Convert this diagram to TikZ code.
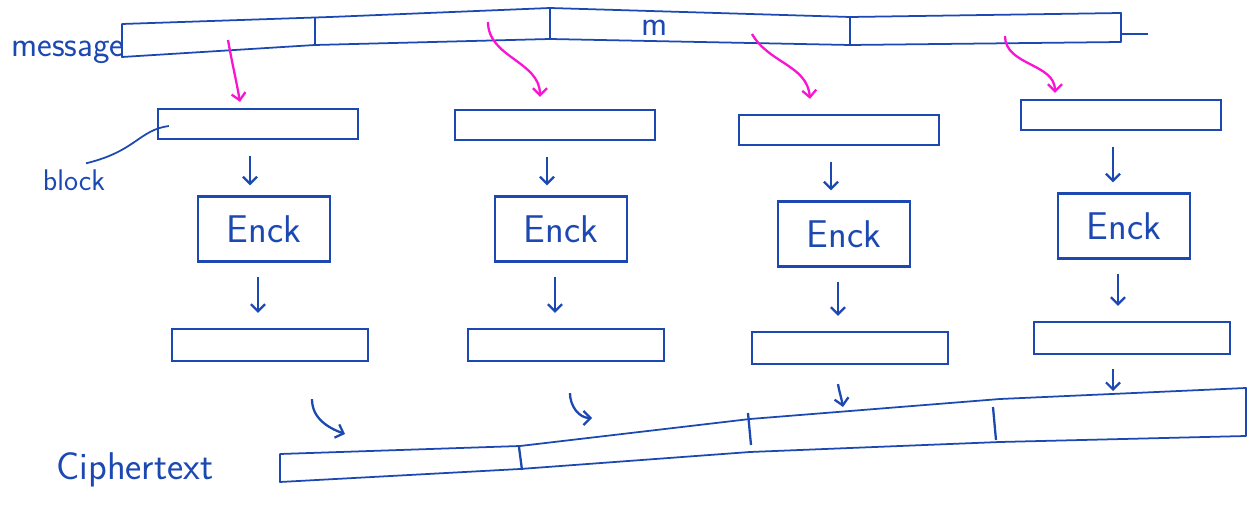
\documentclass[tikz,border=0pt]{standalone}
\usetikzlibrary{arrows.meta, calc}
\definecolor{ink}{RGB}{28,72,178}
\definecolor{hilite}{RGB}{250,20,210}

\begin{document}
\begin{tikzpicture}[x=0.02cm, y=-0.02cm, font=\sffamily,
  >={Straight Barb[length=4pt,width=8pt]},
  bar/.style={draw=ink, line width=1pt, line join=round},
  blockbox/.style={draw=ink, line width=1.3pt, minimum width=4cm, minimum height=0.6cm},
  encbox/.style={draw=ink, line width=1.3pt, minimum width=2.64cm, minimum height=1.3cm,
    text=ink, font=\sffamily\fontsize{22}{26}\selectfont},
  outbox/.style={draw=ink, line width=1.3pt, minimum width=3.92cm, minimum height=0.64cm},
  flow/.style={->, draw=ink, line width=1.3pt},
  pick/.style={->, draw=hilite, line width=1.3pt},
  tag/.style={text=ink, font=\sffamily\fontsize{20}{24}\selectfont}]
\useasboundingbox (0,0) rectangle (1249,506);

% ---- message ----
\draw[bar] (122,24) -- (330,17) -- (550,8) -- (850,17) -- (1121,13)
  -- (1121,42) -- (850,45) -- (550,39) -- (315,45) -- (122,57) -- cycle;
\draw[bar] (1121,34) -- (1148,34);                          % tail
\foreach \x/\a/\b in {315/18/46, 550/8/39, 850/17/45}
  \draw[bar, line width=1.3pt] (\x,\a) -- (\x,\b);
\node[tag] (msg) at (68,52) {message};
\node[tag] (m) at (655,28) {m};
\coordinate (p1) at (228,40);
\coordinate (p2) at (488,22);
\coordinate (p3) at (752,34);
\coordinate (p4) at (1005,36);

% ---- blocks, encryption, outputs ----
\foreach \i/\x/\y in {1/258/124, 2/555/125, 3/839/130, 4/1121/115}
  \node[blockbox] (blk\i) at (\x,\y) {};
\foreach \i/\x/\y in {1/264/229, 2/561/229, 3/844/234, 4/1124/226}
  \node[encbox] (enc\i) at (\x,\y) {Enck};
\foreach \i/\x/\y in {1/270/345, 2/566/345, 3/850/348, 4/1132/338}
  \node[outbox] (out\i) at (\x,\y) {};

\node[tag, font=\sffamily\fontsize{17}{20}\selectfont] (blocklbl) at (74,180) {block};
\draw[ink, line width=1pt] ($(blocklbl.north)+(12,0)$)
  .. controls +(50,-12) and +(-30,4) .. ($(blk1.west)+(12,2)$);

% splitting the message into blocks
\draw[pick] (p1) to[out=-80, in=100] ($(blk1.north)+(-18,-6)$);
\draw[pick] (p2) to[out=-90, in=90] ($(blk2.north)+(-15,-12)$);
\draw[pick] (p3) to[out=-60, in=95] ($(blk3.north)+(-29,-15)$);
\draw[pick] (p4) to[out=-90, in=90] ($(blk4.north)+(-66,-6)$);

\foreach \i in {1,...,4}{
  \draw[flow] ($(blk\i.south)+(-8,16)$) -- ($(blk\i.south |- enc\i.north)+(-8,-10)$);
  \draw[flow] ($(enc\i.south)+(-6,14)$) -- ($(enc\i.south |- out\i.north)+(-6,-15)$);
}

% ---- ciphertext ----
\draw[bar] (280,454) -- (520,446) -- (750,419) -- (1000,399) -- (1246,388)
  -- (1246,436) -- (1000,442) -- (750,452) -- (520,469) -- (280,482) -- cycle;
\foreach \x/\a/\b in {519/447/470, 748/413/445, 993/407/440}
  \draw[bar, line width=1.3pt] (\x,\a) -- (\x+3,\b);
\node[tag, font=\sffamily\fontsize{22}{26}\selectfont] (ctext) at (135,470) {Ciphertext};
\coordinate (c1) at (345,434);
\coordinate (c2) at (592,418);
\coordinate (c3) at (843,407);
\coordinate (c4) at (1113,391);

\foreach \i/\dx/\dy/\o/\n in {1/42/37/-90/160, 2/4/31/-90/180, 3/-12/19/-80/100, 4/-19/14/-90/90}
  \draw[flow] ($(out\i.south)+(\dx,\dy)$) to[out=\o, in=\n] (c\i);
\end{tikzpicture}
\end{document}
